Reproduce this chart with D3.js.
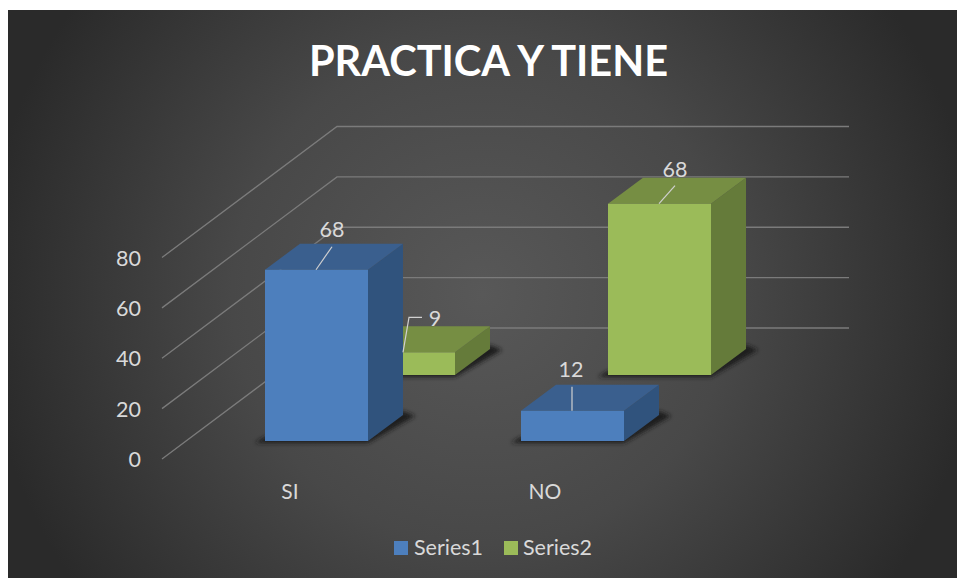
<!DOCTYPE html>
<html><head><meta charset="utf-8">
<style>html,body{margin:0;padding:0;background:#fff}svg{display:block}text{font-family:Lato,"Open Sans","Noto Sans",sans-serif}</style>
<script src="https://cdn.jsdelivr.net/npm/d3@7"></script></head>
<body><svg id="c" width="957" height="578"></svg>
<script>
const categories = ["SI", "NO"];
const seriesNames = ["Series1", "Series2"];
const series1 = [68, 12];
const series2 = [9, 68];
const yTicks = [0, 20, 40, 60, 80];
const titleText = "PRACTICA Y TIENE";
const seriesValues = [series1, series2];
const colors = [{front:"#4d7fbd",top:"#3a5f8e",side:"#30537d"},{front:"#9bbb59",top:"#768e43",side:"#657b3a"}];

const svg = d3.select("#c");
const defs = svg.append("defs");
const g = defs.append("radialGradient").attr("id","bg").attr("gradientUnits","userSpaceOnUse")
  .attr("cx",482).attr("cy",294).attr("r",500);
g.append("stop").attr("offset","0").attr("stop-color","#585858");
g.append("stop").attr("offset","0.5").attr("stop-color","#484848");
g.append("stop").attr("offset","1").attr("stop-color","#2a2a2a");
const blur = defs.append("filter").attr("id","sh").attr("x","-20%").attr("y","-20%").attr("width","140%").attr("height","140%");
blur.append("feGaussianBlur").attr("stdDeviation",2);

svg.append("rect").attr("x",8).attr("y",10).attr("width",949).attr("height",568).attr("fill","url(#bg)");

const hScale = d3.scaleLinear().domain([0,80]).range([0,201.5]);
const xBand = d3.scalePoint().domain(categories).range([265,521]);
const depthX = d3.scalePoint().domain(seriesNames).range([0,87]);
const depthY = d3.scalePoint().domain(seriesNames).range([441,375]);
const barW = 103, dx = 35, dy = 26;

const wall = {fx:162, fy:459, bx:337, by:328, rx:849};
const gl = svg.append("g");
yTicks.forEach(t=>{
  const h = hScale(t);
  gl.append("path").attr("d",`M${wall.fx},${wall.fy-h}L${wall.bx},${wall.by-h}L${wall.rx},${wall.by-h}`)
    .attr("fill","none").attr("stroke","#7b7b7b").attr("stroke-width",1.3);
  svg.append("text").attr("x",141).attr("y",wall.fy-h+8).attr("text-anchor","end")
    .attr("font-size",21.5).attr("fill","#d9d9d9").text(t);
});

[1,0].forEach(si=>{
  const name = seriesNames[si];
  categories.forEach((cat,ci)=>{
    const v = seriesValues[si][ci];
    const x = xBand(cat)+depthX(name), yb = depthY(name), h = hScale(v), yt = yb-h;
    const c = colors[si];
    svg.append("path").attr("filter","url(#sh)").attr("fill","#1c1c1c")
      .attr("d",`M${x-10},${yb+2}L${x+barW},${yb+2}L${x+barW+dx+12},${yb-dy+1}L${x+barW+dx},${yb-dy-4}L${x+barW},${yb-4}L${x},${yb-4}Z`);
    svg.append("path").attr("fill",c.side).attr("d",`M${x+barW},${yb}L${x+barW+dx},${yb-dy}L${x+barW+dx},${yt-dy}L${x+barW},${yt}Z`);
    svg.append("path").attr("fill",c.top).attr("d",`M${x},${yt}L${x+dx},${yt-dy}L${x+barW+dx},${yt-dy}L${x+barW},${yt}Z`);
    svg.append("rect").attr("x",x).attr("y",yt).attr("width",barW).attr("height",h).attr("fill",c.front);
  });
});

const lx = (si,ci)=>xBand(categories[ci])+depthX(seriesNames[si]);
const barTop = (si,ci)=>depthY(seriesNames[si])-hScale(seriesValues[si][ci]);
const labelOffsets = [
  [{tx:67,ty:-33,leader:[[51,0],[67,-23]]},{tx:50,ty:-34,leader:[[51,0],[51,-24]]}],
  [{tx:83,ty:-26,leader:[[51,0],[57,-35],[70,-35]]},{tx:67,ty:-27,leader:[[51,0],[67,-18]]}]
];
seriesValues.forEach((vals,si)=>vals.forEach((v,ci)=>{
  const o = labelOffsets[si][ci], x = lx(si,ci), y = barTop(si,ci);
  svg.append("path").attr("fill","none").attr("stroke","#d0d0d0").attr("stroke-width",1.2)
    .attr("d",d3.line()(o.leader.map(p=>[x+p[0],y+p[1]])));
  svg.append("text").attr("x",x+o.tx).attr("y",y+o.ty).attr("text-anchor","middle")
    .attr("font-size",21.5).attr("fill","#d9d9d9").text(v);
}));

const catX = {SI:290, NO:545};
categories.forEach(c=>svg.append("text").attr("x",catX[c]).attr("y",499).attr("text-anchor","middle")
  .attr("font-size",21).attr("fill","#d9d9d9").text(c));

svg.append("text").attr("x",488.5).attr("y",76).attr("text-anchor","middle").attr("font-size",41.5)
  .attr("font-weight",700).attr("fill","#fff").text(titleText);

const legX = [394,504];
seriesNames.forEach((n,i)=>{
  svg.append("rect").attr("x",legX[i]).attr("y",541).attr("width",14).attr("height",14).attr("fill",colors[i].front);
  svg.append("text").attr("x",legX[i]+20-(i?1:0)).attr("y",555).attr("font-size",21.5).attr("fill","#d9d9d9").text(n);
});
</script></body></html>
